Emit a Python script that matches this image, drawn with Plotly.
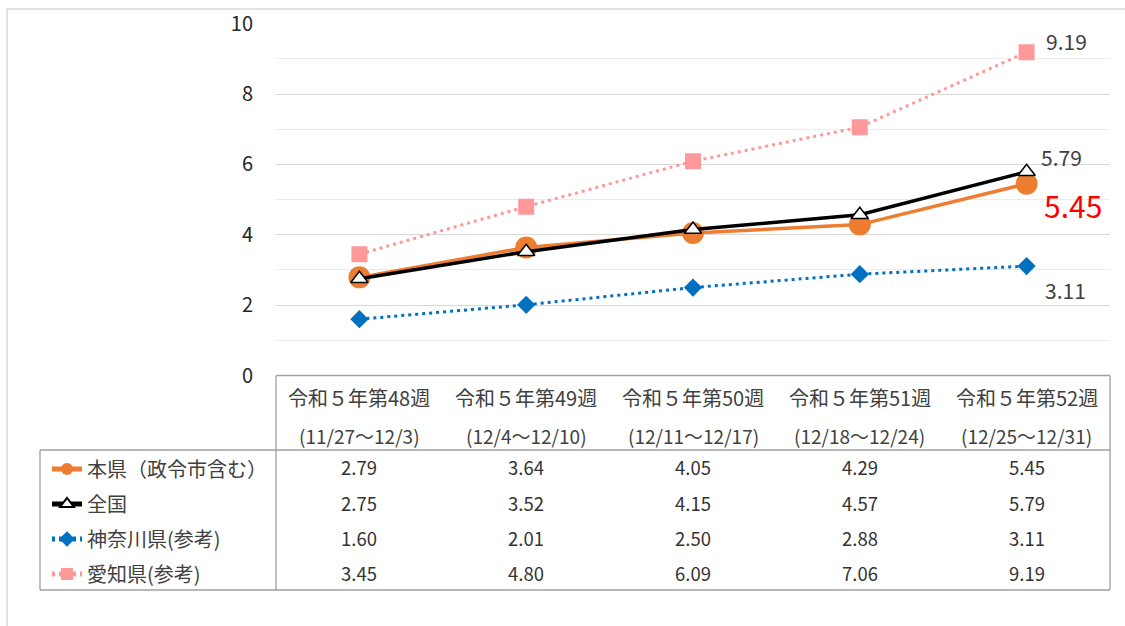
import plotly.graph_objects as go

# Weekly data
weeks = ["令和５年第48週", "令和５年第49週", "令和５年第50週", "令和５年第51週", "令和５年第52週"]
periods = ["(11/27～12/3)", "(12/4～12/10)", "(12/11～12/17)", "(12/18～12/24)", "(12/25～12/31)"]

series_names = ["本県（政令市含む）", "全国", "神奈川県(参考)", "愛知県(参考)"]
honken = [2.79, 3.64, 4.05, 4.29, 5.45]
zenkoku = [2.75, 3.52, 4.15, 4.57, 5.79]
kanagawa = [1.60, 2.01, 2.50, 2.88, 3.11]
aichi = [3.45, 4.80, 6.09, 7.06, 9.19]

W, H = 1125, 626
CJK = "Noto Sans CJK JP"


def px_x(p):
    return p / W


def px_y(p):
    return 1 - p / H


x_idx = list(range(len(weeks)))

fig = go.Figure()

styles = [
    dict(name=series_names[0], y=honken, color="#ED7D31", width=3.5, dash="solid",
         marker=dict(symbol="circle", size=22, color="#ED7D31")),
    dict(name=series_names[1], y=zenkoku, color="#000000", width=3.5, dash="solid",
         marker=dict(symbol="triangle-up", size=15, color="#FFFFFF",
                     line=dict(color="#000000", width=1.5))),
    dict(name=series_names[2], y=kanagawa, color="#0070C0", width=3, dash="3px,4px",
         marker=dict(symbol="diamond", size=14, color="#0070C0")),
    dict(name=series_names[3], y=aichi, color="#FF9999", width=3, dash="3px,4px",
         marker=dict(symbol="square", size=16, color="#FF9999")),
]

for i, s in enumerate(styles):
    fig.add_trace(go.Scatter(
        x=x_idx, y=s["y"], name=s["name"], mode="lines+markers",
        line=dict(color=s["color"], width=s["width"], dash=s["dash"]),
        marker=s["marker"], legendgroup=f"g{i}", hoverinfo="skip",
    ))

# Value labels on the last week
last = len(weeks) - 1
label_specs = [
    (aichi, "#404040", 21, 17, 11),
    (zenkoku, "#404040", 21, 12, 15),
    (honken, "#FF0000", 30, 15, -21),
    (kanagawa, "#404040", 21, 16, -24),
]
annotations = []
for arr, col, size, xs, ys in label_specs:
    annotations.append(dict(
        x=last, y=arr[last], xref="x", yref="y", text=f"{arr[last]:.2f}",
        showarrow=False, xanchor="left", yanchor="middle", xshift=xs, yshift=ys,
        font=dict(family=CJK, size=size, color=col),
    ))

# Data table header
for i in x_idx:
    annotations.append(dict(
        x=i, y=px_y(397), xref="x", yref="paper", text=weeks[i], showarrow=False,
        xanchor="center", yanchor="middle", font=dict(family=CJK, size=20, color="#404040"),
    ))
    annotations.append(dict(
        x=i, y=px_y(435), xref="x", yref="paper", text=periods[i], showarrow=False,
        xanchor="center", yanchor="middle", font=dict(family=CJK, size=19, color="#404040"),
    ))

# Data table values
row_y = [467, 503, 538, 573]
for r, arr in enumerate([honken, zenkoku, kanagawa, aichi]):
    for i in x_idx:
        annotations.append(dict(
            x=i, y=px_y(row_y[r]), xref="x", yref="paper", text=f"{arr[i]:.2f}",
            showarrow=False, xanchor="center", yanchor="middle",
            font=dict(family=CJK, size=18.5, color="#333333"),
        ))

grid = "#a0a0a0"


def hline(x0, x1, y):
    return dict(type="line", xref="paper", yref="paper", x0=px_x(x0), x1=px_x(x1),
                y0=px_y(y), y1=px_y(y), line=dict(color=grid, width=1.3))


def vline(x, y0, y1):
    return dict(type="line", xref="paper", yref="paper", x0=px_x(x), x1=px_x(x),
                y0=px_y(y0), y1=px_y(y1), line=dict(color=grid, width=1.3))


shapes = [
    # outer chart frame
    dict(type="rect", xref="paper", yref="paper", x0=px_x(7), x1=1.05,
         y0=px_y(9), y1=-0.05, line=dict(color="#d9d9d9", width=1.5)),
    hline(276, 1110, 375.5),
    hline(40, 1110, 450),
    hline(40, 1110, 590),
    vline(276, 375.5, 590),
    vline(1110, 375.5, 590),
    vline(40, 450, 590),
]

fig.update_layout(
    width=W, height=H, autosize=False,
    margin=dict(l=0, r=0, t=0, b=0, autoexpand=False),
    paper_bgcolor="white", plot_bgcolor="white",
    font=dict(family=CJK, color="#404040"),
    xaxis=dict(
        domain=[px_x(276), px_x(1110)], range=[-0.5, 4.5],
        showticklabels=False, showgrid=False, zeroline=False, showline=False,
        fixedrange=True, automargin=False,
    ),
    yaxis=dict(
        domain=[px_y(375.5), px_y(23.7)], range=[0, 10],
        tickvals=[0, 2, 4, 6, 8, 10], ticks="", showline=False, zeroline=False,
        showgrid=True, gridcolor="#d9d9d9", gridwidth=1.3,
        minor=dict(dtick=1, showgrid=True, gridcolor="#ececec", gridwidth=1.3),
        tickfont=dict(family=CJK, size=20, color="#262626"),
        ticklabelstandoff=22, fixedrange=True, automargin=False,
    ),
    legend=dict(
        x=px_x(47), y=px_y(449.5), xanchor="left", yanchor="top",
        font=dict(family=CJK, size=20, color="#404040"),
        traceorder="grouped", tracegroupgap=6, itemsizing="constant",
        bgcolor="rgba(0,0,0,0)", borderwidth=0,
    ),
    showlegend=True,
    annotations=annotations,
    shapes=shapes,
)

fig.write_html("out.html")
